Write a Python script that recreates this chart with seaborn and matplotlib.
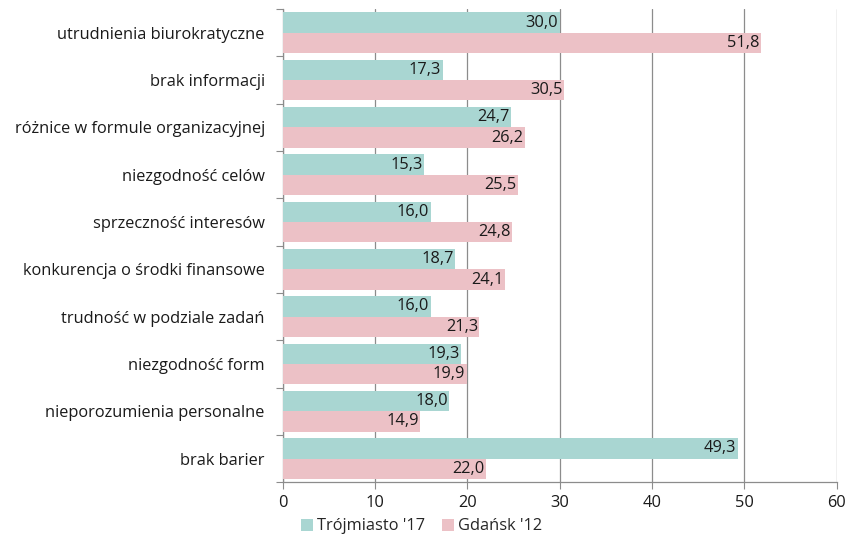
import numpy as np
import pandas as pd
import matplotlib
matplotlib.use("Agg")
import matplotlib.pyplot as plt
import seaborn as sns

categories = [
    "utrudnienia biurokratyczne",
    "brak informacji",
    "różnice w formule organizacyjnej",
    "niezgodność celów",
    "sprzeczność interesów",
    "konkurencja o środki finansowe",
    "trudność w podziale zadań",
    "niezgodność form",
    "nieporozumienia personalne",
    "brak barier",
]
trojmiasto_17 = [30.0, 17.3, 24.7, 15.3, 16.0, 18.7, 16.0, 19.3, 18.0, 49.3]
gdansk_12 = [51.8, 30.5, 26.2, 25.5, 24.8, 24.1, 21.3, 19.9, 14.9, 22.0]
series_names = ["Trójmiasto '17", "Gdańsk '12"]
x_ticks = [0, 10, 20, 30, 40, 50, 60]

df = pd.DataFrame({
    "kategoria": categories * 2,
    "wartosc": trojmiasto_17 + gdansk_12,
    "seria": [series_names[0]] * len(categories) + [series_names[1]] * len(categories),
})

sns.set_style("white")
plt.rcParams["font.family"] = ["Open Sans", "DejaVu Sans"]
fs = 11.8

fig = plt.figure(figsize=(8.52, 5.37), dpi=100)
ax = fig.add_axes([0.332, 0.102, 0.65, 0.881])

palette = {series_names[0]: "#a9d6d2", series_names[1]: "#ecc1c6"}
sns.barplot(data=df, y="kategoria", x="wartosc", hue="seria", palette=palette,
            width=0.86, ax=ax, orient="h", saturation=1, linewidth=0, zorder=3)

for cont in ax.containers:
    texts = ax.bar_label(cont, labels=[f"{v:.1f}".replace(".", ",") for v in cont.datavalues],
                         padding=-1, fontsize=fs, color="#1a1a1a", zorder=4)
    for t in texts:
        t.set_ha("right")

ax.set_xlim(0, 60)
ax.set_xticks(x_ticks)
ax.set_ylim(len(categories) - 0.5, -0.5)
ax.grid(axis="x", color="#8c8c8c", linewidth=0.9, zorder=0)
ax.set_axisbelow(True)

ax.set_yticks(np.arange(-0.5, len(categories), 1.0))
ax.set_yticklabels([])
ax.set_yticks(np.arange(len(categories)), labels=categories, minor=True)
ax.tick_params(axis="y", which="major", length=5, color="#8c8c8c", direction="out", left=True)
ax.tick_params(axis="y", which="minor", length=0, labelsize=fs, pad=13, labelcolor="#1a1a1a")
ax.tick_params(axis="x", length=5, color="#8c8c8c", bottom=True, labelsize=fs, labelcolor="#1a1a1a", pad=4)

for side in ["top", "right"]:
    ax.spines[side].set_visible(False)
for side in ["left", "bottom"]:
    ax.spines[side].set_color("#8c8c8c")
    ax.spines[side].set_linewidth(0.9)

ax.set_xlabel("")
ax.set_ylabel("")
ax.legend(loc="center", bbox_to_anchor=(0.495, 0.02), bbox_transform=fig.transFigure,
          ncol=2, frameon=False, fontsize=fs, handlelength=0.75, handleheight=0.75,
          handletextpad=0.25, columnspacing=1.0, borderpad=0)

fig.savefig("out.png", dpi=100)
